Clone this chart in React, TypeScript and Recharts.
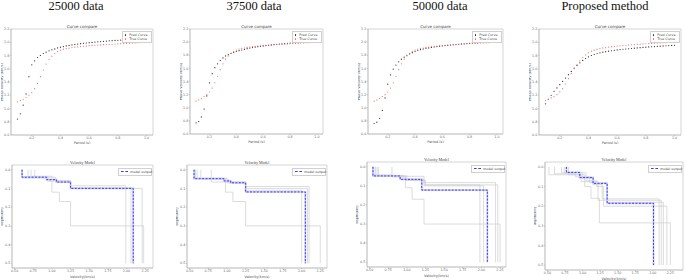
import React from "react";
import {
  ScatterChart,
  Scatter,
  LineChart,
  Line,
  XAxis,
  YAxis,
  ReferenceArea,
  Legend,
} from "recharts";

// periods (s) shared by every dispersion curve
const periods = [
  0.1, 0.12, 0.14, 0.16, 0.18, 0.2, 0.22, 0.24, 0.26, 0.28,
  0.3, 0.32, 0.34, 0.36, 0.38, 0.4, 0.42, 0.44, 0.46, 0.48,
  0.5, 0.52, 0.54, 0.56, 0.58, 0.6, 0.62, 0.64, 0.66, 0.68,
  0.7, 0.72, 0.74, 0.76, 0.78, 0.8, 0.82, 0.84, 0.86, 0.88,
  0.9, 0.92, 0.94, 0.96, 0.98, 1.0,
];

const trueCurve = [
  1.1, 1.12, 1.14, 1.17, 1.2, 1.24, 1.3, 1.38, 1.48, 1.58,
  1.67, 1.74, 1.79, 1.83, 1.86, 1.88, 1.895, 1.905, 1.91, 1.92,
  1.925, 1.93, 1.935, 1.94, 1.945, 1.948, 1.952, 1.955, 1.958, 1.96,
  1.963, 1.966, 1.968, 1.97, 1.973, 1.975, 1.978, 1.98, 1.982, 1.985,
  1.987, 1.99, 1.992, 1.995, 1.997, 2.0,
];

const pred25000 = [
  0.84, 0.92, 1.05, 1.22, 1.48, 1.66, 1.72, 1.77, 1.8, 1.83,
  1.85, 1.87, 1.885, 1.9, 1.915, 1.925, 1.935, 1.945, 1.952, 1.96,
  1.967, 1.973, 1.978, 1.984, 1.989, 1.994, 1.998, 2.002, 2.006, 2.01,
  2.014, 2.018, 2.021, 2.024, 2.027, 2.03, 2.033, 2.036, 2.039, 2.042,
];

const pred37500 = [
  0.77, 0.79, 0.86, 0.98, 1.18, 1.38, 1.52, 1.61, 1.67, 1.72,
  1.76, 1.79, 1.81, 1.83, 1.845, 1.86, 1.87, 1.88, 1.89, 1.9,
  1.91, 1.917, 1.924, 1.93, 1.936, 1.942, 1.947, 1.952, 1.957, 1.962,
  1.966, 1.97, 1.974, 1.978, 1.982, 1.986, 1.99, 1.994, 1.997, 2.0,
  2.003, 2.006, 2.009, 2.012, 2.015, 2.018,
];

const pred50000 = [
  0.76, 0.78, 0.84, 0.96, 1.15, 1.36, 1.5, 1.59, 1.65, 1.7,
  1.74, 1.77, 1.8, 1.82, 1.84, 1.86, 1.875, 1.885, 1.895, 1.905,
  1.912, 1.92, 1.926, 1.932, 1.938, 1.943, 1.948, 1.952, 1.956, 1.96,
  1.964, 1.968, 1.972, 1.975, 1.979, 1.982, 1.986, 1.989, 1.992, 1.995,
  1.998, 2.001, 2.004, 2.007, 2.01, 2.013,
];

const predProposed = [
  1.07, 1.14, 1.2, 1.26, 1.31, 1.36, 1.41, 1.46, 1.51, 1.56,
  1.61, 1.65, 1.69, 1.725, 1.755, 1.78, 1.8, 1.815, 1.83, 1.84,
  1.85, 1.858, 1.865, 1.872, 1.878, 1.884, 1.889, 1.894, 1.898, 1.902,
  1.906, 1.91, 1.914, 1.918, 1.922, 1.926, 1.929, 1.932, 1.935, 1.938,
  1.941, 1.944, 1.947, 1.95, 1.952, 1.955,
];

const trueProposed = [
  1.12, 1.14, 1.16, 1.18, 1.21, 1.25, 1.3, 1.37, 1.45, 1.53,
  1.6, 1.66, 1.72, 1.77, 1.81, 1.84, 1.865, 1.88, 1.895, 1.905,
  1.915, 1.92, 1.927, 1.933, 1.938, 1.943, 1.947, 1.951, 1.955, 1.958,
  1.962, 1.965, 1.968, 1.971, 1.974, 1.977, 1.98, 1.983, 1.985, 1.988,
  1.99, 1.992, 1.994, 1.996, 1.998, 2.0,
];

const periodTicks = [0.2, 0.4, 0.6, 0.8, 1.0];
const velTicksTop = [0.6, 0.8, 1.0, 1.2, 1.4, 1.6, 1.8, 2.0, 2.2];

// velocity models: [layer top depth (km), velocity (km/s)]
const output25000 = [[0, 0.6], [0.04, 0.93], [0.053, 1.06], [0.066, 1.25], [0.1, 2.09]];
const grays25000 = [
  [[0, 0.68], [0.04, 0.95], [0.06, 1.25], [0.086, 1.99]],
  [[0, 0.72], [0.035, 1.0], [0.12, 1.1], [0.17, 1.25], [0.3, 2.23]],
  [[0, 0.77], [0.04, 1.05], [0.06, 1.25], [0.1, 2.21]],
  [[0, 0.6], [0.045, 0.93], [0.06, 1.25], [0.095, 2.06]],
];

const output37500 = [[0, 0.56], [0.048, 0.96], [0.06, 1.05], [0.07, 1.25], [0.119, 2.05]];
const grays37500 = [
  [[0, 0.58], [0.048, 0.79], [0.066, 0.98], [0.12, 1.08], [0.17, 1.25], [0.3, 2.25]],
  [[0, 0.79], [0.05, 0.98], [0.066, 1.25], [0.09, 2.1]],
  [[0, 0.6], [0.045, 1.0], [0.07, 1.25], [0.11, 2.0]],
  [[0, 0.65], [0.05, 1.02], [0.065, 1.25], [0.1, 2.08]],
];

const output50000 = [[0, 0.545], [0.048, 0.91], [0.066, 1.2], [0.122, 2.08]];
const grays50000 = [
  [[0, 0.56], [0.043, 0.8], [0.053, 0.98], [0.11, 1.07], [0.17, 1.23], [0.3, 2.25]],
  [[0, 0.8], [0.05, 1.23], [0.083, 2.19]],
  [[0, 0.6], [0.045, 0.95], [0.065, 1.23], [0.095, 1.98]],
  [[0, 0.58], [0.05, 0.98], [0.07, 1.23], [0.1, 2.03]],
  [[0, 0.62], [0.047, 1.0], [0.072, 1.25], [0.095, 2.22]],
];

const outputProposed = [[0, 0.77], [0.028, 0.96], [0.054, 1.15], [0.084, 1.35], [0.185, 2.01]];
const graysProposed = [
  [[0, 0.52], [0.04, 1.03], [0.1, 1.12], [0.16, 1.24], [0.285, 2.25]],
  [[0, 0.74], [0.03, 1.0], [0.06, 1.15], [0.09, 1.28], [0.163, 2.09]],
  [[0, 0.6], [0.035, 0.9], [0.05, 1.1], [0.08, 1.35], [0.18, 2.15]],
  [[0, 0.7], [0.03, 1.05], [0.07, 1.2], [0.1, 1.3], [0.2, 2.2]],
  [[0, 0.8], [0.04, 0.98], [0.075, 1.22], [0.17, 2.12]],
];

const velTicksBottom = [0.5, 0.75, 1.0, 1.25, 1.5, 1.75, 2.0, 2.25];
const depthTicks = [0, 0.1, 0.2, 0.3, 0.4, 0.5];
const maxDepth = 0.5;

const columnTitles = ["25000 data", "37500 data", "50000 data", "Proposed method"];

const FONT = "DejaVu Sans";
const tickStyle = { fontSize: 3.3, fill: "#666", fontFamily: FONT };
const FRAME = "#a8a8a8";
const BLUE = "#3a3aee";

const toSteps = (layers: number[][]) => {
  const pts: { v: number; d: number }[] = [];
  layers.forEach(([top, vel], i) => {
    const bottom = i + 1 < layers.length ? layers[i + 1][0] : maxDepth;
    pts.push({ v: vel, d: top });
    pts.push({ v: vel, d: bottom });
  });
  return pts;
};

const dot = (color: string) => (props: any) =>
  <circle cx={props.cx} cy={props.cy} r={0.6} fill={color} />;

const legendBox = {
  border: "0.5px solid #d0d0d0",
  background: "#fff",
  padding: "1px 2px",
  fontFamily: FONT,
  fontSize: 3.3,
  lineHeight: "4px",
  color: "#444",
  whiteSpace: "nowrap" as const,
};

const CurveLegend = () => (
  <div style={legendBox}>
    <div>
      <span style={{ display: "inline-block", width: 1.3, height: 1.3, borderRadius: 1, background: "#222", marginRight: 3, verticalAlign: "middle" }} />
      Pred Curve
    </div>
    <div>
      <span style={{ display: "inline-block", width: 1.3, height: 1.3, borderRadius: 1, background: "#f26b6b", marginRight: 3, verticalAlign: "middle" }} />
      True Curve
    </div>
  </div>
);

const ModelLegend = () => (
  <div style={legendBox}>
    <span style={{ display: "inline-block", width: 7, borderTop: `1.2px dashed ${BLUE}`, marginRight: 2, verticalAlign: "middle" }} />
    model output
  </div>
);

function CurvePanel({ box, pred, truth }: { box: number[]; pred: number[]; truth: number[] }) {
  const [L, T, R, B] = box;
  const YW = 10, MT = 6, MR = 2, XH = 9;
  const predData = pred.map((v, i) => ({ p: periods[i], v }));
  const trueData = truth.map((v, i) => ({ p: periods[i], v }));
  const plotW = R - L;
  return (
    <div style={{ position: "absolute", left: L - YW, top: T - MT }}>
      <ScatterChart width={plotW + YW + MR} height={B - T + MT + XH} margin={{ top: MT, right: MR, bottom: 0, left: 0 }}>
        <XAxis
          type="number"
          dataKey="p"
          domain={[0.055, 1.045]}
          ticks={periodTicks}
          tickFormatter={(t) => t.toFixed(1)}
          height={XH}
          tick={tickStyle}
          tickSize={1.2}
          tickMargin={0.5}
          stroke={FRAME}
          strokeWidth={0.5}
          label={{ value: "Period (s)", position: "insideBottom", offset: 0, style: { fontSize: 3.5, fill: "#555", fontFamily: FONT } }}
        />
        <YAxis
          type="number"
          dataKey="v"
          domain={[0.6, 2.2]}
          ticks={velTicksTop}
          tickFormatter={(t) => t.toFixed(1)}
          width={YW}
          tick={tickStyle}
          tickSize={1.2}
          tickMargin={0.5}
          stroke={FRAME}
          strokeWidth={0.5}
          label={{ value: "Phase Velocity (km/s)", angle: -90, position: "insideLeft", offset: 1, style: { fontSize: 3.5, fill: "#555", fontFamily: FONT, textAnchor: "middle" } }}
        />
        <ReferenceArea
          x1={0.055}
          x2={1.045}
          y1={0.6}
          y2={2.2}
          fill="none"
          stroke={FRAME}
          strokeWidth={0.5}
          label={{ value: "Curve compare", position: "top", offset: 1.5, style: { fontSize: 4, fill: "#444", fontFamily: FONT } }}
        />
        <Scatter data={predData} shape={dot("#222")} isAnimationActive={false} />
        <Scatter data={trueData} shape={dot("#f26b6b")} isAnimationActive={false} />
        <Legend
          layout="horizontal"
          verticalAlign="middle"
          align="center"
          content={CurveLegend}
          wrapperStyle={{ top: MT + 2, left: YW + plotW - 31, width: 30, height: 10 }}
        />
      </ScatterChart>
    </div>
  );
}

function ModelPanel({ box, output, grays, xMax }: { box: number[]; output: number[][]; grays: number[][][]; xMax: number }) {
  const [L, T, R, B] = box;
  const YW = 11, MT = 5, MR = 2, XH = 11;
  const plotW = R - L;
  const xMin = 0.465;
  return (
    <div style={{ position: "absolute", left: L - YW, top: T - MT }}>
      <LineChart width={plotW + YW + MR} height={B - T + MT + XH} margin={{ top: MT, right: MR, bottom: 0, left: 0 }}>
        <XAxis
          type="number"
          dataKey="v"
          domain={[xMin, xMax]}
          ticks={velTicksBottom}
          tickFormatter={(t) => t.toFixed(2)}
          height={XH}
          tick={tickStyle}
          tickSize={1.2}
          tickMargin={0.5}
          stroke={FRAME}
          strokeWidth={0.5}
          allowDataOverflow
          label={{ value: "Velocity(km/s)", position: "insideBottom", offset: 1, style: { fontSize: 3.5, fill: "#555", fontFamily: FONT } }}
        />
        <YAxis
          type="number"
          domain={[-0.025, 0.525]}
          reversed
          ticks={depthTicks}
          tickFormatter={(t) => t.toFixed(1)}
          width={YW}
          tick={tickStyle}
          tickSize={1.2}
          tickMargin={0.5}
          stroke={FRAME}
          strokeWidth={0.5}
          allowDataOverflow
          label={{ value: "depth(km)", angle: -90, position: "insideLeft", offset: 1, style: { fontSize: 3.5, fill: "#555", fontFamily: FONT, textAnchor: "middle" } }}
        />
        <ReferenceArea
          x1={xMin}
          x2={xMax}
          y1={-0.025}
          y2={0.525}
          fill="none"
          stroke={FRAME}
          strokeWidth={0.5}
          label={{ value: "Velocity Model", position: "top", offset: 1.2, style: { fontSize: 4, fill: "#444", fontFamily: "Liberation Serif" } }}
        />
        {grays.map((g, i) => (
          <Line
            key={i}
            data={toSteps(g)}
            dataKey="d"
            stroke="#cdcdcd"
            strokeWidth={0.7}
            dot={false}
            isAnimationActive={false}
          />
        ))}
        <Line data={toSteps(output)} dataKey="d" stroke="#cfd0f8" strokeWidth={1.8} dot={false} isAnimationActive={false} />
        <Line
          data={toSteps(output)}
          dataKey="d"
          stroke={BLUE}
          strokeWidth={1}
          strokeDasharray="2 1.4"
          dot={false}
          isAnimationActive={false}
        />
        <Legend
          layout="horizontal"
          verticalAlign="middle"
          align="center"
          content={ModelLegend}
          wrapperStyle={{ top: MT + 2.5, left: YW + plotW - 35, width: 34, height: 7 }}
        />
      </LineChart>
    </div>
  );
}

const curvePanels = [
  { box: [11, 29, 153, 135], pred: pred25000, truth: trueCurve },
  { box: [190, 29, 323, 134], pred: pred37500, truth: trueCurve },
  { box: [368, 29, 503, 134], pred: pred50000, truth: trueCurve },
  { box: [539, 29, 681, 135], pred: predProposed, truth: trueProposed },
];

const modelPanels = [
  { box: [12, 165, 153, 268], output: output25000, grays: grays25000, xMax: 2.355 },
  { box: [187, 165, 327, 268], output: output37500, grays: grays37500, xMax: 2.34 },
  { box: [367, 162, 506, 267], output: output50000, grays: grays50000, xMax: 2.33 },
  { box: [545, 162, 683, 270], output: outputProposed, grays: graysProposed, xMax: 2.43 },
];

const titleCenters = [76, 254, 440, 605];

export default function App() {
  return (
    <div style={{ position: "absolute", left: 0, top: 0, width: 685, height: 280, background: "#fff", overflow: "hidden" }}>
      <svg width={685} height={16} style={{ position: "absolute", left: 0, top: 0 }}>
        {columnTitles.map((t, i) => (
          <text key={t} x={titleCenters[i]} y={9.5} textAnchor="middle" fontFamily="Liberation Serif" fontSize={12.5} fill="#111">
            {t}
          </text>
        ))}
      </svg>
      {curvePanels.map((p, i) => (
        <CurvePanel key={i} box={p.box} pred={p.pred} truth={p.truth} />
      ))}
      {modelPanels.map((p, i) => (
        <ModelPanel key={i} box={p.box} output={p.output} grays={p.grays} xMax={p.xMax} />
      ))}
    </div>
  );
}
